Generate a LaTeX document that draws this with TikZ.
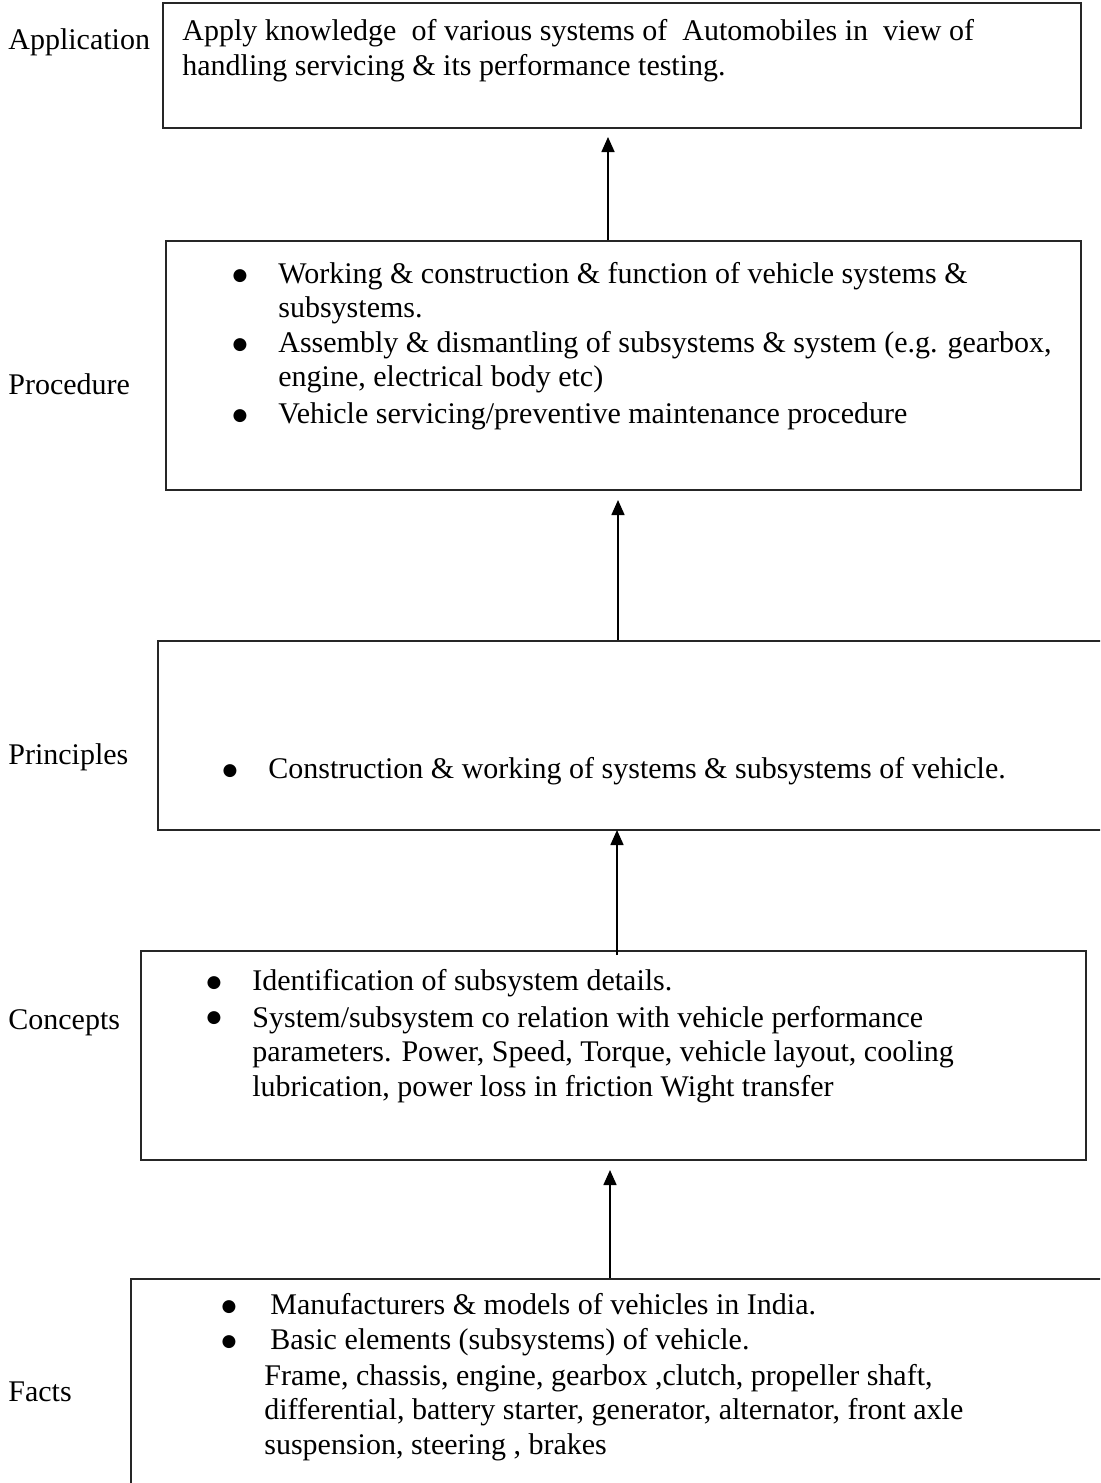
\documentclass[tikz,border=0pt]{standalone}
\usepackage{fontspec}
\setmainfont{Liberation Serif}
\newfontfamily\djvfont{DejaVu Sans}
\usetikzlibrary{arrows.meta}
\begin{document}
\begin{tikzpicture}[x=0.5pt,y=-0.5pt,
  box/.style={draw=black!85, line width=1pt, inner sep=0pt, anchor=north west},
  txt/.style={anchor=base west, inner sep=0pt, align=left, font=\fontsize{15}{17.25}\selectfont},
  bul/.style={anchor=base, inner sep=0pt, font=\djvfont\fontsize{8.5}{8.5}\selectfont},
  arr/.style={line width=0.8pt, -{Triangle[length=7.5pt,width=6.5pt]}}]
\newcommand{\bigbul}{\raisebox{1.5pt}{●}}
\useasboundingbox (0,0) rectangle (1100,1483);
\clip (0,0) rectangle (1100,1483);
% boxes
\node[box, minimum width=459pt, minimum height=62.5pt] (app) at (162,2) {};
\node[box, minimum width=457.5pt, minimum height=124.5pt] (proc) at (165,240) {};
\node[box, minimum width=474.5pt, minimum height=94.5pt] (prin) at (157,640) {};
\node[box, minimum width=472.5pt, minimum height=104.5pt] (conc) at (140,950) {};
\node[box, minimum width=488pt, minimum height=108.5pt] (fact) at (130,1278) {};
% labels
\node[txt] (lapp) at (8,49) {Application};
\node[txt] (lproc) at (8,394) {Procedure};
\node[txt] (lprin) at (8,764) {Principles};
\node[txt] (lconc) at (8,1029) {Concepts};
\node[txt] (lfact) at (8,1401) {Facts};
% application text (base = last line)
\node[txt] (tapp) at (182,75.5) {Apply knowledge\ \ of various systems of\ \ Automobiles in\ \ view of\\handling servicing \& its performance testing.};
% procedure
\node[bul] (pb1) at (240,283) {\bigbul};
\node[txt] (p1) at (278,317.5) {Working \& construction \& function of vehicle systems \&\\subsystems.};
\node[bul] (pb2) at (240,352) {\bigbul};
\node[txt] (p2) at (278,386.5) {Assembly \& dismantling of subsystems \& system (e.g. gearbox,\\engine, electrical body etc)};
\node[bul] (pb3) at (240,423) {\bigbul};
\node[txt] (p3) at (278,423) {Vehicle servicing/preventive maintenance procedure};
% principles
\node[bul] (rb1) at (230,778) {\bigbul};
\node[txt] (r1) at (268,778) {Construction \& working of systems \& subsystems of vehicle.};
% concepts
\node[bul] (cb1) at (214,990) {\bigbul};
\node[txt] (c1) at (252,990) {Identification of subsystem details.};
\node[bul] (cb2) at (214,1025) {\bigbul};
\node[txt] (c2) at (252,1096) {System/subsystem co relation with vehicle performance\\parameters. Power, Speed, Torque, vehicle layout, cooling\\lubrication, power loss in friction Wight transfer};
% facts
\node[bul] (fb1) at (229,1314) {\bigbul};
\node[txt] (f1) at (270,1314) {Manufacturers \& models of vehicles in India.};
\node[bul] (fb2) at (229,1349) {\bigbul};
\node[txt] (f2) at (270,1349) {Basic elements (subsystems) of vehicle.};
\node[txt] (f3) at (264,1454) {Frame, chassis, engine, gearbox ,clutch, propeller shaft,\\differential, battery starter, generator, alternator, front axle\\suspension, steering , brakes};
% arrows
\coordinate (a1s) at (608,240); \coordinate (a1e) at (608,137);
\coordinate (a2s) at (618,640); \coordinate (a2e) at (618,500);
\coordinate (a3s) at (617,955); \coordinate (a3e) at (617,830);
\coordinate (a4s) at (610,1278); \coordinate (a4e) at (610,1170);
\draw[arr] (a1s) -- (a1e);
\draw[arr] (a2s) -- (a2e);
\draw[arr] (a3s) -- (a3e);
\draw[arr] (a4s) -- (a4e);
\end{tikzpicture}
\end{document}
